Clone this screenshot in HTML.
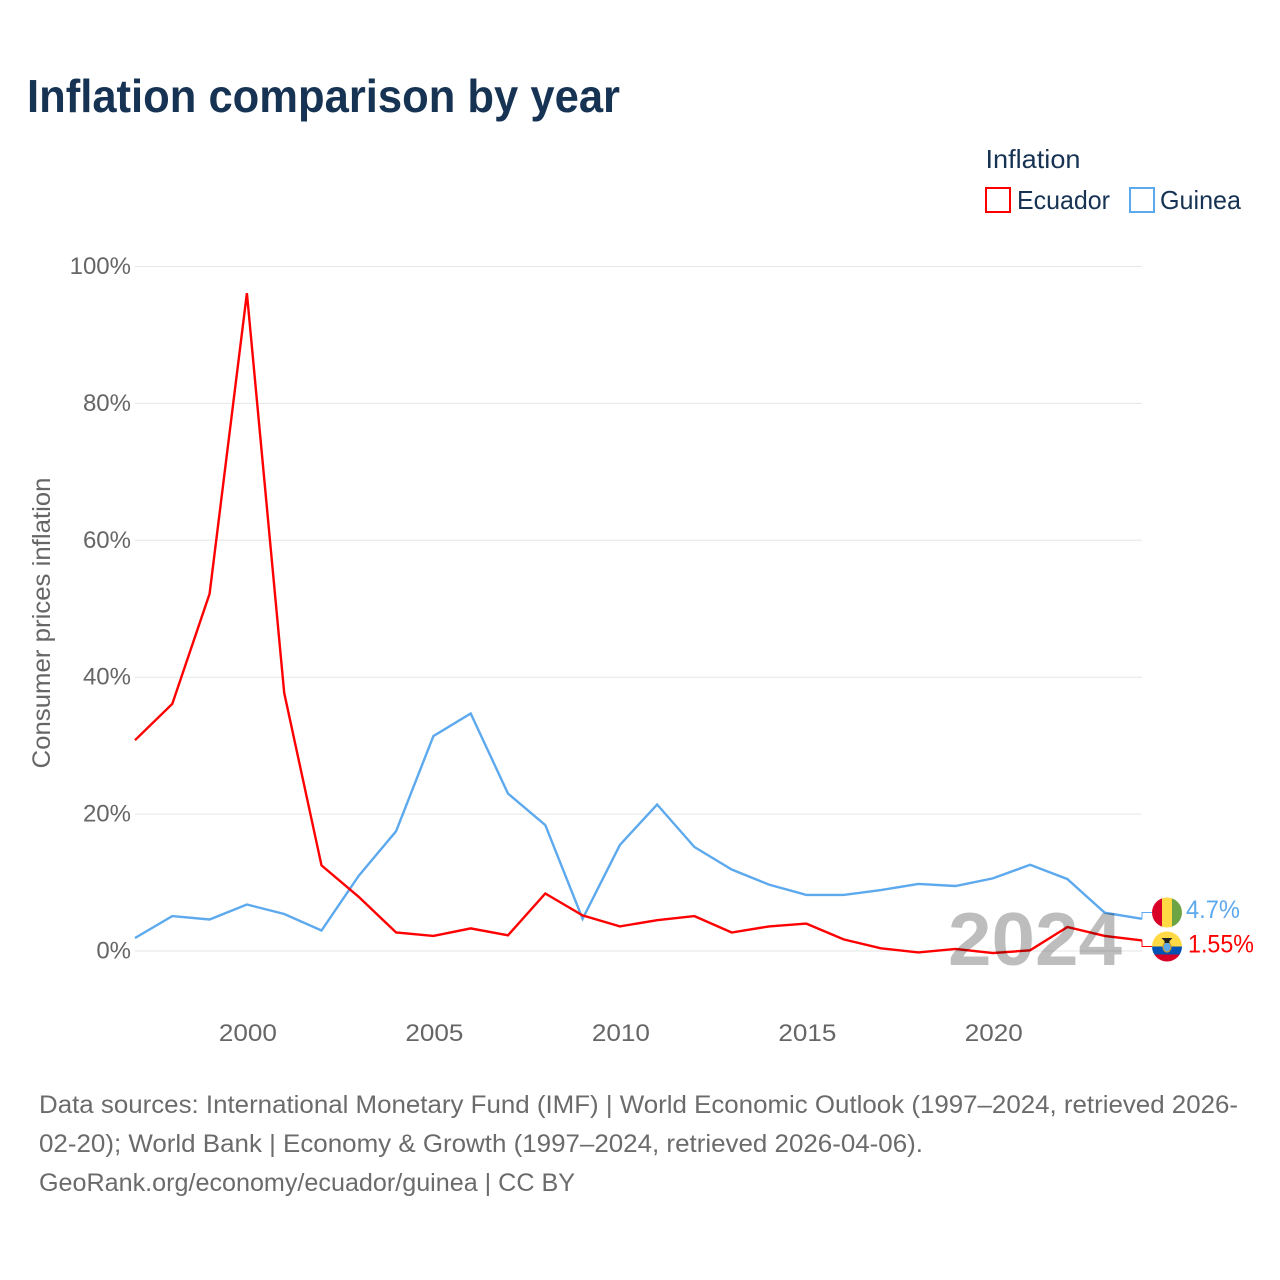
<!DOCTYPE html>
<html lang="en">
<head>
<meta charset="utf-8">
<title>Inflation comparison by year</title>
<style>
html,body{margin:0;padding:0;background:#fff;}
svg{display:block;font-family:"Liberation Sans",sans-serif;}
</style>
</head>
<body>
<svg id="chart" width="1280" height="1280" viewBox="0 0 1280 1280" xmlns="http://www.w3.org/2000/svg">
  <defs>
    <clipPath id="guinea-clip"><circle cx="1167" cy="912.5" r="15"/></clipPath>
    <clipPath id="ecuador-clip"><circle cx="1167" cy="946.5" r="15"/></clipPath>
  </defs>
  <rect width="1280" height="1280" fill="#fff"/>
  <text x="27" y="112" font-size="46" font-weight="700" fill="#173353" textLength="593" lengthAdjust="spacingAndGlyphs">Inflation comparison by year</text>

  <g>
    <text x="985.5" y="168" font-size="26" fill="#173353" textLength="95" lengthAdjust="spacingAndGlyphs">Inflation</text>
    <rect x="986" y="188" width="24" height="24" fill="#fff" stroke="#ff0000" stroke-width="2"/>
    <text x="1017" y="209" font-size="26" fill="#173353" textLength="93" lengthAdjust="spacingAndGlyphs">Ecuador</text>
    <rect x="1130" y="188" width="24" height="24" fill="#fff" stroke="#5da9ee" stroke-width="2"/>
    <text x="1160" y="209" font-size="26" fill="#173353" textLength="81" lengthAdjust="spacingAndGlyphs">Guinea</text>
  </g>

  <g id="grid"></g>
  <g id="y-ticks"></g>
  <g id="x-ticks"></g>
  <text transform="translate(50,623) rotate(-90)" text-anchor="middle" font-size="25" fill="#666" textLength="291" lengthAdjust="spacingAndGlyphs">Consumer prices inflation</text>

  <g id="series"></g>

  <text x="948" y="965" font-size="75" font-weight="700" fill="#000" fill-opacity="0.26" textLength="174" lengthAdjust="spacingAndGlyphs">2024</text>

  <g id="end-connectors"></g>

  <g clip-path="url(#guinea-clip)">
    <rect x="1152" y="897" width="10" height="31" fill="#d80027"/>
    <rect x="1162" y="897" width="10" height="31" fill="#ffda44"/>
    <rect x="1172" y="897" width="10" height="31" fill="#6da544"/>
  </g>
  <g clip-path="url(#ecuador-clip)">
    <rect x="1152" y="931" width="30" height="15.5" fill="#ffda44"/>
    <rect x="1152" y="946.5" width="30" height="8" fill="#0052b4"/>
    <rect x="1152" y="954.5" width="30" height="8" fill="#d80027"/>
    <ellipse cx="1167" cy="947" rx="4" ry="5" fill="#5da9ee" stroke="#c89b2a" stroke-width="1.2"/>
    <path d="M1161.5 938h11l-3 3v2h-5v-2z" fill="#222"/>
  </g>
  <text id="label-guinea" x="1186" y="918" font-size="25" fill="#5da9ee" textLength="54" lengthAdjust="spacingAndGlyphs">4.7%</text>
  <text id="label-ecuador" x="1188" y="952.5" font-size="25" fill="#ff0000" textLength="66" lengthAdjust="spacingAndGlyphs">1.55%</text>

  <g font-size="25" fill="#6b6b6b">
    <text x="39" y="1113" textLength="1199" lengthAdjust="spacingAndGlyphs">Data sources: International Monetary Fund (IMF) | World Economic Outlook (1997–2024, retrieved 2026-</text>
    <text x="39" y="1152" textLength="884" lengthAdjust="spacingAndGlyphs">02-20); World Bank | Economy &amp; Growth (1997–2024, retrieved 2026-04-06).</text>
    <text x="39" y="1191" textLength="536" lengthAdjust="spacingAndGlyphs">GeoRank.org/economy/ecuador/guinea | CC BY</text>
  </g>
</svg>

<script>
const years = [1997,1998,1999,2000,2001,2002,2003,2004,2005,2006,2007,2008,2009,2010,2011,2012,2013,2014,2015,2016,2017,2018,2019,2020,2021,2022,2023,2024];
const ecuadorValues = [30.8,36.1,52.2,96.1,37.7,12.5,7.9,2.7,2.2,3.3,2.3,8.4,5.2,3.6,4.5,5.1,2.7,3.6,4.0,1.7,0.4,-0.2,0.3,-0.3,0.1,3.5,2.2,1.55];
const guineaValues = [1.9,5.1,4.6,6.8,5.4,3.0,11.0,17.5,31.4,34.7,23.0,18.4,4.7,15.5,21.4,15.2,11.9,9.7,8.2,8.2,8.9,9.8,9.5,10.6,12.6,10.5,5.6,4.7];
const yTickValues = [0,20,40,60,80,100];
const xTickValues = [2000,2005,2010,2015,2020];

const NS = 'http://www.w3.org/2000/svg';
const xScale = function (year) { return 135 + (year - 1997) * (1142 - 135) / 27; };
const yScale = function (value) { return 951 - value * 6.845; };

function make(tag, parent) {
  const el = document.createElementNS(NS, tag);
  parent.appendChild(el);
  return el;
}

const gridGroup = document.getElementById('grid');
const yTickGroup = document.getElementById('y-ticks');
yTickValues.forEach(function (v) {
  const line = make('line', gridGroup);
  
  
  line.setAttribute('x1', 135);
  line.setAttribute('x2', 1142);
  line.setAttribute('y1', yScale(v));
  line.setAttribute('y2', yScale(v));
  line.setAttribute('stroke', '#e6e6e6');
  line.setAttribute('stroke-width', 1);
  const label = make('text', yTickGroup);
  
  
  label.setAttribute('x', 131);
  label.setAttribute('y', yScale(v) + 7.5);
  label.setAttribute('text-anchor', 'end');
  label.setAttribute('font-size', 24);
  label.setAttribute('fill', '#666');
  label.textContent = v + '%';
});

const xTickGroup = document.getElementById('x-ticks');
xTickValues.forEach(function (year) {
  const label = make('text', xTickGroup);
  
  
  label.setAttribute('x', xScale(year) + 1);
  label.setAttribute('y', 1041);
  label.setAttribute('text-anchor', 'middle');
  label.setAttribute('font-size', 24);
  label.setAttribute('fill', '#666');
  label.setAttribute('textLength', 58);
  label.setAttribute('lengthAdjust', 'spacingAndGlyphs');
  label.textContent = year;
});

function pathFor(values) {
  return values.map(function (v, i) {
    return (i ? 'L' : 'M') + xScale(years[i]).toFixed(1) + ' ' + yScale(v).toFixed(1);
  }).join('');
}

const seriesGroup = document.getElementById('series');
const guineaLine = make('path', seriesGroup);


guineaLine.setAttribute('d', pathFor(guineaValues));
guineaLine.setAttribute('fill', 'none');
guineaLine.setAttribute('stroke', '#5da9ee');
guineaLine.setAttribute('stroke-width', 2.4);

const ecuadorLine = make('path', seriesGroup);


ecuadorLine.setAttribute('d', pathFor(ecuadorValues));
ecuadorLine.setAttribute('fill', 'none');
ecuadorLine.setAttribute('stroke', '#ff0000');
ecuadorLine.setAttribute('stroke-width', 2.4);

const connectorGroup = document.getElementById('end-connectors');
const lastYear = years[years.length - 1];
const guineaConnector = make('path', connectorGroup);


guineaConnector.setAttribute('d', 'M' + xScale(lastYear) + ' ' + yScale(guineaValues[guineaValues.length - 1]) + 'V912.5H1152');
guineaConnector.setAttribute('fill', 'none');
guineaConnector.setAttribute('stroke', '#5da9ee');
guineaConnector.setAttribute('stroke-width', 1);

const ecuadorConnector = make('path', connectorGroup);


ecuadorConnector.setAttribute('d', 'M' + xScale(lastYear) + ' ' + yScale(ecuadorValues[ecuadorValues.length - 1]) + 'V946.5H1152');
ecuadorConnector.setAttribute('fill', 'none');
ecuadorConnector.setAttribute('stroke', '#ff0000');
ecuadorConnector.setAttribute('stroke-width', 1);
</script>
</body>
</html>
